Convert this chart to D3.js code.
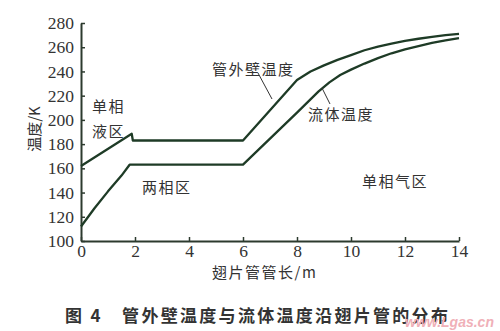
<!DOCTYPE html>
<html>
<head>
<meta charset="utf-8">
<script src="https://cdn.jsdelivr.net/npm/d3@7"></script>
<style>
body { margin: 0; background: #fff; }
svg text { fill: #333; }
.cjk { font-family: "Noto Sans CJK SC", sans-serif; }
</style>
</head>
<body>
<div id="chart"></div>
<script>
// data (x in m, temperature in K)
var wallX = [0, 1.88, 1.92, 6, 7, 8, 8.5, 9, 9.5, 10, 10.5, 11, 11.5, 12, 12.5, 13, 13.5, 14];
var wallT = [162, 188.5, 183, 183, 208, 233, 240, 245, 249.5, 253.5, 257.5, 260.5, 263, 265.3, 267, 268.6, 270, 271];
var fluidX = [0, 0.5, 1, 1.5, 1.8, 6, 7, 8, 8.8, 9.2, 9.6, 10, 10.5, 11, 11.5, 12, 12.5, 13, 13.5, 14];
var fluidT = [112, 127, 141, 154, 163, 163, 184.5, 206, 223.5, 231, 237, 241.5, 246.5, 251, 255, 258.3, 261, 263.5, 265.7, 267.5];
var xTicks = [0, 2, 4, 6, 8, 10, 12, 14];
var yTicks = [100, 120, 140, 160, 180, 200, 220, 240, 260, 280];

var w = 500;
var h = 331;
var lineColor = "#1e3b26";

var svg = d3.select("#chart")
            .append("svg")
            .attr("width", w)
            .attr("height", h);

var x = d3.scaleLinear().domain([0, 14]).range([81, 459]);
var y = d3.scaleLinear().domain([100, 280]).range([241, 23]);

// axes, ticks point inward
var xAxis = svg.append("g")
  .attr("transform", "translate(0," + y(100) + ")")
  .call(d3.axisBottom(x).tickValues(xTicks).tickSizeInner(-4).tickSizeOuter(0).tickPadding(4));
var yAxis = svg.append("g")
  .attr("transform", "translate(" + x(0) + ",0)")
  .call(d3.axisLeft(y).tickValues(yTicks).tickSizeInner(-4).tickSizeOuter(0).tickPadding(7));

[xAxis, yAxis].forEach(function(a){
  a.attr("font-family", null).attr("font-size", null);
  a.select(".domain").attr("stroke", "#2c3a2e").attr("stroke-width", 2);
  a.selectAll(".tick line").attr("stroke", "#2c3a2e").attr("stroke-width", 1.5);
  a.selectAll(".tick text")
    .style("fill", "#333")
    .style("font-family", "'Liberation Serif', 'DejaVu Serif', serif")
    .style("font-size", "17.5px");
});

var line = d3.line()
  .x(function(d){ return x(d[0]); })
  .y(function(d){ return y(d[1]); });

svg.append("path")
  .datum(d3.zip(wallX, wallT))
  .attr("d", line)
  .attr("fill", "none")
  .attr("stroke", lineColor)
  .attr("stroke-width", 2.3)
  .attr("stroke-linejoin", "round");

svg.append("path")
  .datum(d3.zip(fluidX, fluidT))
  .attr("d", line)
  .attr("fill", "none")
  .attr("stroke", lineColor)
  .attr("stroke-width", 2.3)
  .attr("stroke-linejoin", "round");

// leader lines
svg.append("line").attr("x1", 258).attr("y1", 73).attr("x2", 272).attr("y2", 99)
  .attr("stroke", "#333").attr("stroke-width", 1);
svg.append("line").attr("x1", 322).attr("y1", 88).attr("x2", 330).attr("y2", 104)
  .attr("stroke", "#333").attr("stroke-width", 1);

function label(t, tx, ty, size){
  return svg.append("text")
    .attr("class", "cjk")
    .attr("x", tx)
    .attr("y", ty)
    .style("font-size", size + "px")
    .style("letter-spacing", "1.5px")
    .text(t);
}

label("单相", 92, 112, 15);
label("液区", 92, 137, 15);
label("管外壁温度", 212, 75, 15);
label("流体温度", 308, 120, 15);
label("两相区", 142, 193, 15);
label("单相气区", 362, 187, 15);
label("翅片管管长/m", 212, 278, 15);

// y label, rotated
svg.append("text")
  .attr("class", "cjk")
  .attr("transform", "translate(40,129) rotate(-90)")
  .attr("text-anchor", "middle")
  .style("font-size", "15px")
  .text("温度/K");

// caption
svg.append("text")
  .attr("class", "cjk")
  .attr("x", 65)
  .attr("y", 322)
  .style("font-size", "17px")
  .style("font-weight", "bold")
  .style("letter-spacing", "2.3px")
  .text("图 4　管外壁温度与流体温度沿翅片管的分布");

// watermark
svg.append("text")
  .attr("x", 405)
  .attr("y", 327)
  .style("font-family", "'Liberation Sans', sans-serif")
  .style("font-size", "14px")
  .style("font-style", "italic")
  .style("font-weight", "bold")
  .style("fill", "#f0b0b8")
  .text("www.Lgas.cn");
</script>
</body>
</html>
